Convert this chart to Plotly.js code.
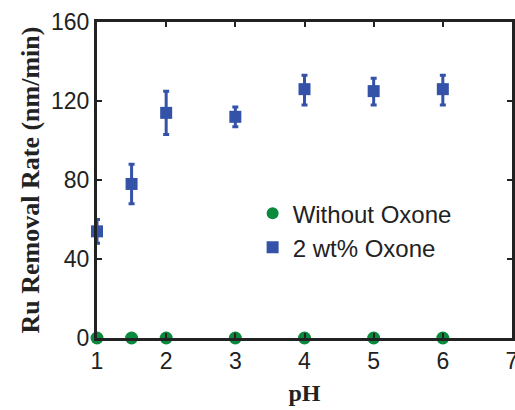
<!DOCTYPE html>
<html>
<head>
<meta charset="utf-8">
<script src="https://cdn.plot.ly/plotly-3.0.1.min.js"></script>
<style>html,body{margin:0;padding:0;background:#fff;}#chart{width:515px;height:410px;}</style>
</head>
<body>
<div id="chart"></div>
<script>
const pH = [1, 1.5, 2, 3, 4, 5, 6];
const withoutOxone = [0, 0, 0, 0, 0, 0, 0];
const withOxone = [54, 78, 114, 112, 126, 125, 126];
const errPlus = [6, 10, 11, 5, 7, 6.5, 7];
const errMinus = [6, 10, 11, 5, 8, 7, 8];
const xTicks = [1, 2, 3, 4, 5, 6, 7];
const yTicks = [0, 40, 80, 120, 160];

const green = '#0b8a3e';
const blue = '#3352a8';

const traces = [
  {
    x: pH, y: withoutOxone, name: 'Without Oxone', type: 'scatter', mode: 'markers',
    marker: {color: green, size: 13, symbol: 'circle'}, cliponaxis: false
  },
  {
    x: pH, y: withOxone, name: '2 wt% Oxone', type: 'scatter', mode: 'markers',
    marker: {color: blue, size: 12, symbol: 'square'}, cliponaxis: false,
    error_y: {type: 'data', symmetric: false, array: errPlus, arrayminus: errMinus,
              color: blue, thickness: 3, width: 3}
  }
];

const layout = {
  width: 515, height: 410,
  margin: {l: 97, r: 3, t: 22, b: 72},
  paper_bgcolor: '#fff', plot_bgcolor: '#fff',
  showlegend: true,
  legend: {x: 0.375, y: 0.34, xanchor: 'left', yanchor: 'middle',
           font: {family: 'Liberation Sans, Arial, sans-serif', size: 24, color: '#222'},
           bgcolor: 'rgba(0,0,0,0)', itemsizing: 'constant'},
  xaxis: {
    range: [1, 7], tickvals: xTicks, ticktext: xTicks.map(String),
    showline: true, linecolor: '#222', linewidth: 3, mirror: 'ticks',
    ticks: 'inside', ticklen: 5, tickwidth: 2, tickcolor: '#222',
    showgrid: false, zeroline: false, ticklabeloverflow: 'allow',
    tickfont: {family: 'Liberation Sans, Arial, sans-serif', size: 23, color: '#222'},
    title: {text: '<b>pH</b>', font: {family: 'Liberation Serif, Times New Roman, serif', size: 24, color: '#222'}, standoff: 12}
  },
  yaxis: {
    range: [0, 160], tickvals: yTicks, ticktext: yTicks.map(String),
    showline: true, linecolor: '#222', linewidth: 3, mirror: 'ticks',
    ticks: 'inside', ticklen: 5, tickwidth: 2, tickcolor: '#222',
    showgrid: false, zeroline: false,
    tickfont: {family: 'Liberation Sans, Arial, sans-serif', size: 23, color: '#222'},
    title: {text: '<b>Ru Removal Rate (nm/min)</b>', font: {family: 'Liberation Serif, Times New Roman, serif', size: 26, color: '#222'}, standoff: 4}
  }
};

Plotly.newPlot('chart', traces, layout, {displayModeBar: false, staticPlot: true});
</script>
</body>
</html>
